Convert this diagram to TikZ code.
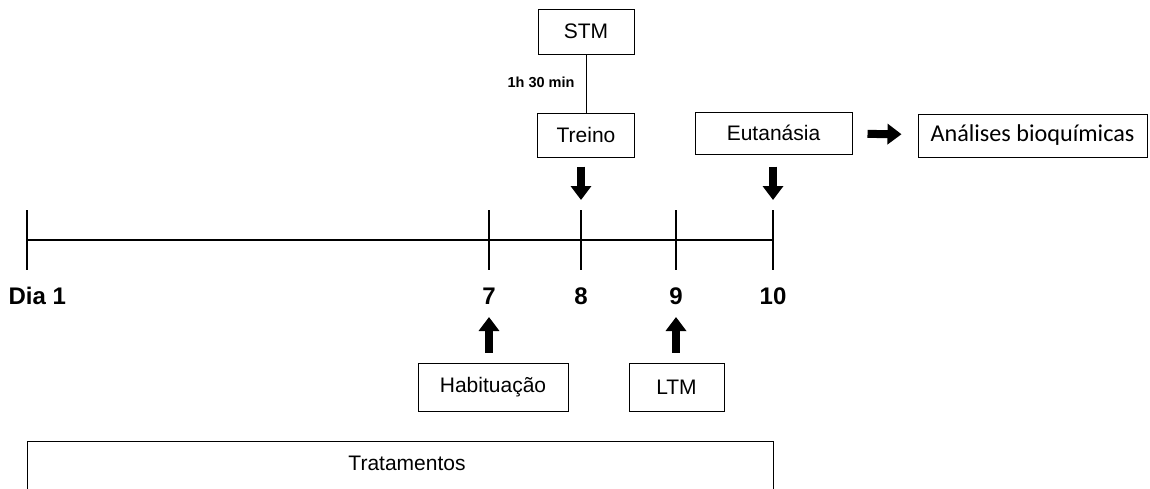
\documentclass[tikz,border=0pt]{standalone}
\usepackage{fontspec}
\setmainfont{Liberation Sans}
\newfontfamily\calibrifont{Carlito}
\usetikzlibrary{arrows.meta,positioning}

\begin{document}
\begin{tikzpicture}
                [x=1pt, y=-1pt,
                box/.style={draw, line width=1pt, inner sep=0pt,
                    font=\fontsize{21}{25}\selectfont},
                day/.style={anchor=base, font=\fontsize{24}{28}\selectfont\bfseries},
                tick/.style={line width=2pt},
                bigarrow/.style={line width=8pt, -{Triangle[width=20pt,length=14pt]}},
                ]
                \useasboundingbox (0,0) rectangle (1150,488);
                \clip (0,0) rectangle (1150,488);

                \draw[tick] (27,240) coordinate (D1)
                    -- (773,240) coordinate (D10);
                \coordinate (D7) at (489,240);
                \coordinate (D8) at (581,240);
                \coordinate (D9) at (676,240);
                \foreach \d in {1,7,8,9,10}
                    \draw[tick] ([yshift=30pt]D\d) -- ([yshift=-30pt]D\d);

                \node[day, anchor=base west] (dia1) at (5,304) {Dia 1};
                \foreach \d in {7,8,9,10}
                    \node[day] (n\d) at (D\d |- 0,304) {\d};

                \node[box, minimum width=96pt, minimum height=45pt] (stm) at (586,31.5) {STM};
                \node[box, minimum width=97pt, minimum height=44pt] (treino) at (586,135) {Treino};
                \draw[line width=1pt] (stm) -- (treino);
                \node[font=\fontsize{14.5}{16}\selectfont\bfseries] (tempo) at (541,82) {1h 30 min};

                \node[box, minimum width=157pt, minimum height=42pt] (eut) at (773.5,133) {Eutanásia};
                \node[box, minimum width=229pt, minimum height=43pt,
                    font=\fontsize{24.2}{28}\calibrifont] (anal) at (1032.5,135.5) {Análises bioquímicas};
                \draw[bigarrow, shorten <=15pt, shorten >=16pt] (eut) -- (anal);

                \draw[bigarrow, shorten <=9pt, shorten >=10pt] (D8 |- treino.south) -- ([yshift=30pt]D8);
                \draw[bigarrow, shorten <=12pt, shorten >=10pt] (D10 |- eut.south) -- ([yshift=30pt]D10);

                \node[box, minimum width=150pt, minimum height=48pt] (hab) at (493,387) {Habituação};
                \node[box, minimum width=95pt, minimum height=48pt] (ltm) at (676.5,387) {LTM};
                \draw[bigarrow] ([yshift=10pt]n7.base |- hab.north) -- ([yshift=-13pt]n7.base);
                \draw[bigarrow] ([yshift=10pt]n9.base |- ltm.north) -- ([yshift=-13pt]n9.base);

                \draw[line width=1pt] (27,441) rectangle (773,520);
                \node[anchor=base, font=\fontsize{21}{25}\selectfont] (trat) at (407,470) {Tratamentos};
            \end{tikzpicture}
\end{document}
